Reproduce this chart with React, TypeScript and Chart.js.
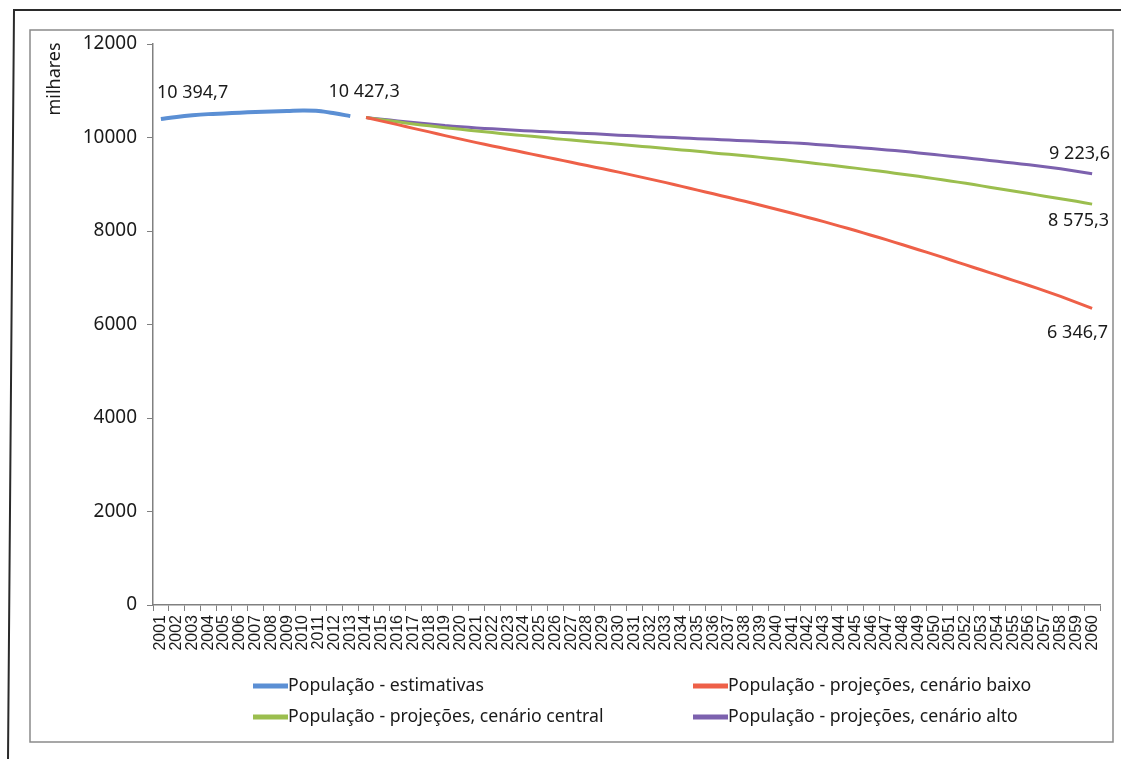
import { useEffect, useRef } from "react";
import { Chart, registerables } from "chart.js";

Chart.register(...registerables);

const years: string[] = [
  "2001", "2002", "2003", "2004", "2005", "2006", "2007", "2008", "2009", "2010",
  "2011", "2012", "2013", "2014", "2015", "2016", "2017", "2018", "2019", "2020",
  "2021", "2022", "2023", "2024", "2025", "2026", "2027", "2028", "2029", "2030",
  "2031", "2032", "2033", "2034", "2035", "2036", "2037", "2038", "2039", "2040",
  "2041", "2042", "2043", "2044", "2045", "2046", "2047", "2048", "2049", "2050",
  "2051", "2052", "2053", "2054", "2055", "2056", "2057", "2058", "2059", "2060",
];

// 2001–2013
const estimates: number[] = [
  10394.7, 10440, 10475, 10500, 10515, 10530, 10545, 10555, 10565, 10578, 10568, 10518, 10457,
];

// 2014–2060
const projLow: number[] = [
  10427.3, 10350, 10275, 10195, 10120, 10040, 9965, 9890, 9820, 9750,
  9680, 9610, 9540, 9470, 9400, 9330, 9260, 9185, 9110, 9035,
  8955, 8875, 8795, 8715, 8635, 8550, 8465, 8380, 8290, 8200,
  8105, 8010, 7910, 7810, 7705, 7600, 7495, 7385, 7275, 7165,
  7055, 6945, 6835, 6720, 6600, 6475, 6346.7,
];

const projCentral: number[] = [
  10427.3, 10380, 10335, 10290, 10250, 10210, 10175, 10140, 10105, 10070,
  10040, 10010, 9975, 9945, 9915, 9885, 9855, 9825, 9795, 9765,
  9735, 9705, 9670, 9640, 9608, 9575, 9540, 9503, 9465, 9425,
  9385, 9345, 9302, 9260, 9215, 9170, 9120, 9070, 9020, 8965,
  8910, 8855, 8800, 8745, 8690, 8635, 8575.3,
];

const projHigh: number[] = [
  10427.3, 10390, 10355, 10320, 10290, 10255, 10230, 10205, 10185, 10165,
  10145, 10130, 10115, 10100, 10085, 10070, 10050, 10035, 10020, 10005,
  9990, 9975, 9960, 9945, 9930, 9915, 9900, 9885, 9865, 9840,
  9815, 9790, 9765, 9735, 9705, 9670, 9635, 9600, 9565, 9530,
  9490, 9455, 9415, 9375, 9330, 9280, 9223.6,
];

const seriesNames: string[] = [
  "População - estimativas",
  "População - projeções, cenário baixo",
  "População - projeções, cenário central",
  "População - projeções, cenário alto",
];

const seriesColors: string[] = ["#5B8FD4", "#EE6048", "#9BBE4E", "#7C61AE"];

const yTicks: number[] = [0, 2000, 4000, 6000, 8000, 10000, 12000];

const FONT = "'Noto Sans', sans-serif";

function fmt(v: number): string {
  const [i, d] = v.toFixed(1).split(".");
  const grouped = i.replace(/\B(?=(\d{3})+(?!\d))/g, " ");
  return grouped + "," + d;
}

const decorPlugin = {
  id: "decor",
  beforeDraw(chart: any) {
    const ctx = chart.ctx;
    ctx.save();
    ctx.fillStyle = "#ffffff";
    ctx.fillRect(0, 0, chart.width, chart.height);
    // outer frame (scan edge)
    ctx.strokeStyle = "#2a2a2a";
    ctx.lineWidth = 2;
    ctx.beginPath();
    ctx.moveTo(1121, 10);
    ctx.lineTo(14, 10);
    ctx.lineTo(8, 759);
    ctx.stroke();
    // inner chart frame
    ctx.strokeStyle = "#8a8a8a";
    ctx.lineWidth = 1.5;
    ctx.strokeRect(30, 30, 1083, 712);
    ctx.restore();
  },
  afterDraw(chart: any) {
    const ctx = chart.ctx;
    ctx.save();
    ctx.fillStyle = "#1a1a1a";

    // axis title
    ctx.save();
    ctx.translate(55, 79);
    ctx.rotate(-Math.PI / 2);
    ctx.font = `18px ${FONT}`;
    ctx.textAlign = "center";
    ctx.textBaseline = "middle";
    ctx.fillText("milhares", 0, 0);
    ctx.restore();

    // data labels
    ctx.font = `18px ${FONT}`;
    ctx.textBaseline = "middle";
    const pBlue = chart.getDatasetMeta(0).data[0];
    ctx.textAlign = "left";
    ctx.fillText(fmt(estimates[0]), pBlue.x - 4, pBlue.y - 26);

    const startIdx = estimates.length;
    const pStart = chart.getDatasetMeta(3).data[startIdx];
    ctx.textAlign = "center";
    ctx.fillText(fmt(projHigh[0]), pStart.x - 2, pStart.y - 26);

    const last = years.length - 1;
    ctx.textAlign = "right";
    const pHigh = chart.getDatasetMeta(3).data[last];
    ctx.fillText(fmt(projHigh[projHigh.length - 1]), pHigh.x + 18, pHigh.y - 20);
    const pCen = chart.getDatasetMeta(2).data[last];
    ctx.fillText(fmt(projCentral[projCentral.length - 1]), pCen.x + 17, pCen.y + 17);
    const pLow = chart.getDatasetMeta(1).data[last];
    ctx.fillText(fmt(projLow[projLow.length - 1]), pLow.x + 16, pLow.y + 25);

    // legend (2 x 2)
    const cols = [253, 693];
    const rows = [686, 717];
    ctx.font = `17.7px ${FONT}`;
    ctx.textAlign = "left";
    chart.data.datasets.forEach((ds: any, i: number) => {
      const x = cols[i % 2];
      const y = rows[Math.floor(i / 2)];
      ctx.strokeStyle = ds.borderColor;
      ctx.lineWidth = 5;
      ctx.lineCap = "butt";
      ctx.beginPath();
      ctx.moveTo(x, y);
      ctx.lineTo(x + 35, y);
      ctx.stroke();
      ctx.fillStyle = "#1a1a1a";
      ctx.fillText(ds.label, x + 35, y);
    });
    ctx.restore();
  },
};

export default function App() {
  const ref = useRef<HTMLCanvasElement | null>(null);

  useEffect(() => {
    if (!ref.current) return;
    const nulls13 = estimates.map(() => null);
    const nulls47 = projLow.map(() => null);
    const chart = new Chart(ref.current, {
      type: "line",
      data: {
        labels: years,
        datasets: [
          {
            label: seriesNames[0],
            data: [...estimates, ...nulls47],
            borderColor: seriesColors[0],
            borderWidth: 4,
            tension: 0.35,
            pointRadius: 0,
          },
          {
            label: seriesNames[1],
            data: [...nulls13, ...projLow],
            borderColor: seriesColors[1],
            borderWidth: 3,
            tension: 0.2,
            pointRadius: 0,
          },
          {
            label: seriesNames[2],
            data: [...nulls13, ...projCentral],
            borderColor: seriesColors[2],
            borderWidth: 3,
            tension: 0.2,
            pointRadius: 0,
          },
          {
            label: seriesNames[3],
            data: [...nulls13, ...projHigh],
            borderColor: seriesColors[3],
            borderWidth: 3,
            tension: 0.2,
            pointRadius: 0,
          },
        ],
      },
      options: {
        responsive: false,
        animation: false,
        spanGaps: false,
        layout: { padding: { left: 0, top: 44, right: 21, bottom: 94 } },
        plugins: {
          legend: { display: false },
          tooltip: { enabled: false },
        },
        scales: {
          x: {
            type: "category",
            offset: true,
            grid: {
              offset: true,
              drawOnChartArea: false,
              drawTicks: true,
              tickLength: 6,
              color: "#808080",
            },
            border: { color: "#808080", width: 1.5 },
            ticks: {
              autoSkip: false,
              minRotation: 90,
              maxRotation: 90,
              padding: 4,
              color: "#1a1a1a",
              font: { family: "'Liberation Sans', Arial, sans-serif", size: 16 },
            },
            afterFit: (s: any) => {
              s.height = 60;
            },
          },
          y: {
            min: 0,
            max: 12000,
            afterBuildTicks: (s: any) => {
              s.ticks = yTicks.map((v) => ({ value: v }));
            },
            grid: {
              drawOnChartArea: false,
              drawTicks: true,
              tickLength: 6,
              color: "#808080",
            },
            border: { color: "#808080", width: 1.5 },
            ticks: {
              padding: 10,
              color: "#1a1a1a",
              font: { family: FONT, size: 19 },
              callback: (v: any) => String(v),
            },
            afterFit: (s: any) => {
              s.width = 153;
            },
          },
        },
      },
      plugins: [decorPlugin],
    });
    return () => chart.destroy();
  }, []);

  return (
    <div style={{ position: "absolute", left: 0, top: 0, width: 1121, height: 759, background: "#fff" }}>
      <canvas ref={ref} width={1121} height={759} style={{ display: "block" }} />
    </div>
  );
}
